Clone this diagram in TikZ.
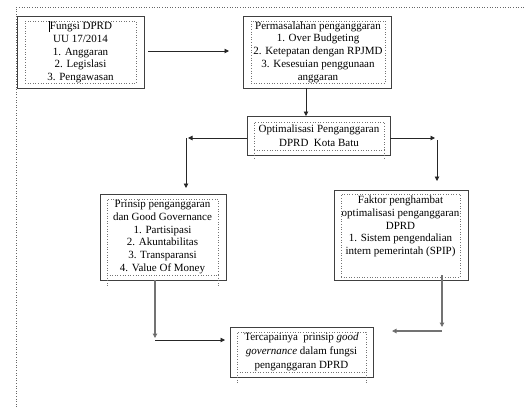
\documentclass[tikz,border=0pt]{standalone}
\usepackage{fontspec}
\setmainfont{Liberation Serif}
\usetikzlibrary{arrows.meta,calc}
\begin{document}
\begin{tikzpicture}[x=1pt,y=-1pt,
  outerbox/.style={draw=black!75,line width=1pt,inner sep=0pt,outer sep=0pt},
  innerbox/.style={draw=black!55,dotted,line width=0.6pt,inner sep=0pt,outer sep=0pt,
    align=center,font=\fontsize{11}{12.7}\selectfont},
  stub/.style={draw=black!55,dotted,line width=0.6pt},
  conn/.style={draw=black!85,line width=0.9pt,-{Triangle[length=4.5pt,width=4.5pt]}},
  conng/.style={draw=black!55,line width=1.1pt,-{Triangle[length=4.5pt,width=4.5pt,fill=black]}},
  btext/.style={align=center,inner sep=0pt,font=\fontsize{11}{12.7}\selectfont}]
\useasboundingbox (0,0) rectangle (526,407);
% page border
\draw[dotted,black!60,line width=0.6pt] (16,407) -- (16,7) -- (526,7);
% box 1
\node[outerbox,minimum width=127pt,minimum height=72pt] (b1) at (80.5,52) {};
\node[innerbox,minimum width=111pt,minimum height=62pt] (i1) at (80.5,52)
  {\rule[-2.5pt]{0.9pt}{11pt}Fungsi DPRD\\UU 17/2014\\1. Anggaran\\2. Legislasi\\3. Pengawasan};
% box 2
\node[outerbox,minimum width=148pt,minimum height=72pt] (b2) at (317,52) {};
\node[innerbox,minimum width=134pt,minimum height=62pt] (i2) at (318,52)
  {Permasalahan penganggaran\\1. Over Budgeting\\2. Ketepatan dengan RPJMD\\3. Kesesuian penggunaan\\anggaran};
% box 3
\node[outerbox,minimum width=143pt,minimum height=39pt] (b3) at (318.5,135.5) {};
\node[innerbox,minimum width=130pt,minimum height=28pt,font=\fontsize{11}{14}\selectfont] (i3) at (319,136)
  {Optimalisasi Penganggaran\\DPRD\ \ Kota Batu};
\draw[stub] (i3.south west) -- ++(0,10);
\draw[stub] (i3.south east) -- ++(0,10);
% box 4
\node[outerbox,minimum width=126pt,minimum height=86pt] (b4) at (163,237) {};
\node[innerbox,minimum width=111pt,minimum height=76pt] (i4) at (162.5,237)
  {Prinsip penganggaran\\dan Good Governance\\1. Partisipasi\\2. Akuntabilitas\\3. Transparansi\\4. Value Of Money};
\draw[stub] (i4.south west) -- ++(0,12);
\draw[stub] (i4.south east) -- ++(0,12);
% box 5
\node[outerbox,minimum width=134pt,minimum height=90pt] (b5) at (401,235) {};
\node[innerbox,minimum width=119pt,minimum height=83pt] (i5) at (400.5,235.5) {};
\node[btext,anchor=north] (t5) at (400.5,196)
  {Faktor penghambat\\optimalisasi penganggaran\\DPRD\\1. Sistem pengendalian\\intern pemerintah (SPIP)};
% box 6
\node[outerbox,minimum width=143pt,minimum height=50pt] (b6) at (301.5,352) {};
\node[innerbox,minimum width=129pt,minimum height=40pt,font=\fontsize{11}{14}\selectfont] (i6) at (301.5,352)
  {Tercapainya\ \ prinsip \textit{good}\\\textit{governance} dalam fungsi\\penganggaran DPRD};
\draw[stub] (i6.south west) -- ++(0,11);
\draw[stub] (i6.south east) -- ++(0,11);
% connectors
\coordinate (c1) at (229,51);
\draw[conn] ([xshift=4pt]b1.east |- c1) -- (c1);
\draw[conn] (306,88) -- (306,116);
\coordinate (c3a) at (188,138);
\coordinate (c3b) at (186,188);
\draw[conn] (b3.west |- c3a) -- (c3a);
\draw[conn] (c3b |- c3a) -- (c3b);
\coordinate (c4a) at (435,138);
\coordinate (c4b) at (437,181);
\draw[conn] (b3.east |- c4a) -- (c4a);
\draw[conn] (437,140) -- (c4b);
\coordinate (c5a) at (155,338);
\coordinate (c5b) at (225,340);
\draw[conng] (b4.south -| c5a) -- (c5a);
\draw[conn] (155,340) -- (c5b);
\coordinate (c6a) at (442,327);
\coordinate (c6b) at (392,331);
\draw[conng] ([yshift=5pt]b5.south -| c6a) -- (c6a);
\draw[conng] (442,331) -- (c6b);
\end{tikzpicture}
\end{document}
